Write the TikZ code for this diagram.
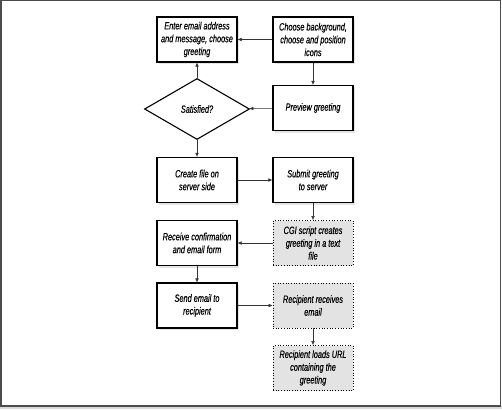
\documentclass[tikz,border=0pt]{standalone}
\usepackage{fontspec}
\setmainfont{Liberation Sans}[FakeStretch=0.7,FakeBold=0.35]
\usetikzlibrary{shadows,arrows.meta,shapes.geometric}
\begin{document}
\begin{tikzpicture}[x=1pt,y=-1pt,
    every node/.style={font=\itshape\fontsize{10.5}{12.8}\selectfont,align=center},
    stepbox/.style={draw,line width=1.1pt,fill=white,minimum width=80pt,minimum height=45pt,
        inner sep=1pt,drop shadow={shadow xshift=2pt,shadow yshift=-2pt,fill=gray!40}},
    serverbox/.style={draw,dotted,line width=0.7pt,fill=gray!22,minimum width=80pt,minimum height=45pt,inner sep=1pt},
    decision/.style={draw,diamond,line width=1.1pt,fill=white,aspect=1.72,minimum width=105pt,minimum height=61pt,inner sep=0pt},
    link/.style={-{Latex[length=4pt,width=3.5pt]},draw=black!80,line width=0.5pt}]
    \useasboundingbox (0,0) rectangle (502,409);
    \fill[gray!30] (0,406) rectangle (502,409);
    \draw[black!70,line width=1.5pt] (0.75,0.75) rectangle (500.5,406);
    \node[stepbox] (enter) at (197,39.5) {Enter email address\\and message, choose\\greeting};
    \node[stepbox] (choose) at (313,39.5) {Choose background,\\choose and position\\icons};
    \node[decision] (ok) at (197,109) {Satisfied?};
    \node[stepbox] (preview) at (313,108) {Preview greeting};
    \node[stepbox] (create) at (197,180) {Create file on\\server side};
    \node[stepbox] (submit) at (313,180) {Submit greeting\\to server};
    \node[stepbox] (receive) at (197,243) {Receive confirmation\\and email form};
    \node[serverbox] (cgi) at (313,243) {CGI script creates\\greeting in a text\\file};
    \node[stepbox] (send) at (197,305.5) {Send email to\\recipient};
    \node[serverbox] (gets) at (313,305.5) {Recipient receives\\email};
    \node[serverbox] (loads) at (313,368) {Recipient loads URL\\containing the\\greeting};
    \draw[link] (choose) -- (enter);
    \draw[link] (choose) -- (preview);
    \draw[link] (preview) -- (ok);
    \draw[link] (ok) -- (enter);
    \draw[link] (ok) -- (create);
    \draw[link] (create) -- (submit);
    \draw[link] (submit) -- (cgi);
    \draw[link] (cgi) -- (receive);
    \draw[link] (receive) -- (send);
    \draw[link] (send) -- (gets);
    \draw[link] (gets) -- (loads);
\end{tikzpicture}
\end{document}
